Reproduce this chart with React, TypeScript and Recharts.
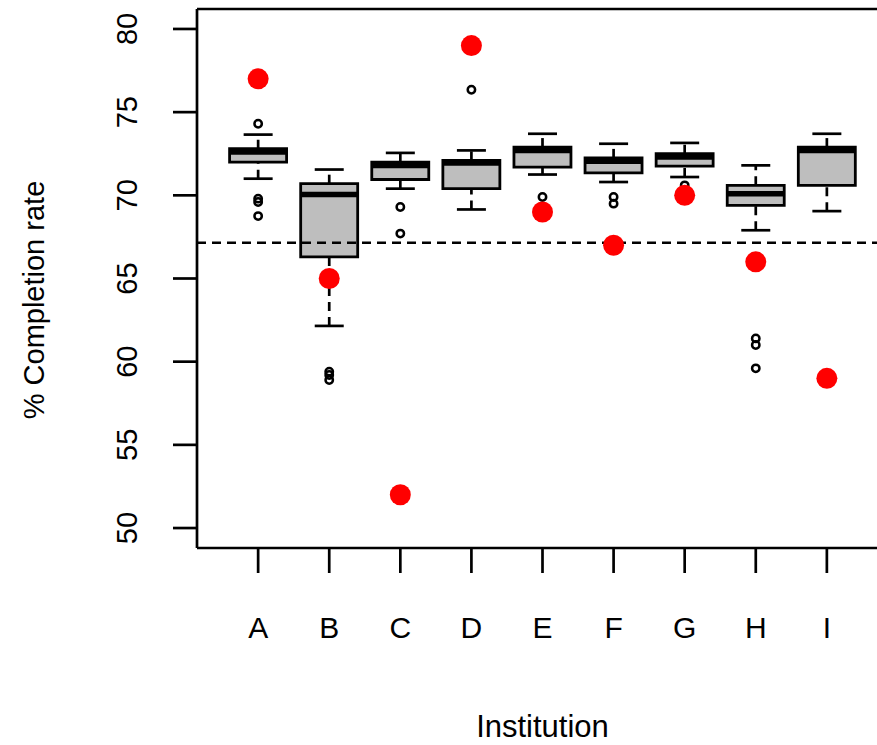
import React from 'react';
import { ComposedChart, Bar, Scatter, XAxis, YAxis, ReferenceLine, Label } from 'recharts';

const institutions = ['A', 'B', 'C', 'D', 'E', 'F', 'G', 'H', 'I'];
const lowerWhisker = [71.0, 62.15, 70.4, 69.15, 71.25, 70.8, 71.1, 67.9, 69.05];
const q1 = [72.0, 66.3, 70.95, 70.4, 71.7, 71.35, 71.75, 69.4, 70.6];
const median = [72.6, 70.05, 71.8, 71.95, 72.7, 72.05, 72.3, 70.1, 72.7];
const q3 = [72.8, 70.7, 72.0, 72.1, 72.9, 72.25, 72.5, 70.6, 72.9];
const upperWhisker = [73.65, 71.55, 72.55, 72.7, 73.7, 73.1, 73.15, 71.8, 73.7];
const outliers = [
  [74.3, 69.8, 69.6, 68.75],
  [59.4, 59.2, 58.9],
  [69.3, 67.7],
  [76.35],
  [69.9],
  [69.9, 69.5],
  [70.6],
  [61.4, 61.0, 59.6],
  [],
];
const observed = [77, 65, 52, 79, 69, 67, 70, 66, 59];
const overallRate = 67.15;
const yTicks = [50, 55, 60, 65, 70, 75, 80];
const xTicks = [1, 2, 3, 4, 5, 6, 7, 8, 9];
const yDomain = [48.8, 81.2];

const boxData = institutions.map((name, i) => ({
  x: i + 1,
  name,
  box: [q1[i], q3[i]],
}));
const medianData = institutions.map((_, i) => ({ x: i + 1, y: median[i] }));
const capData = institutions.flatMap((_, i) => [
  { x: i + 1, y: lowerWhisker[i] },
  { x: i + 1, y: upperWhisker[i] },
]);
const outlierData = outliers.flatMap((vals, i) => vals.map((v) => ({ x: i + 1, y: v })));
const observedData = observed.map((v, i) => ({ x: i + 1, y: v }));

const FONT = '"Liberation Sans", Arial, sans-serif';
const BOX_W = 57;
const CAP_W = 29;

const YTick = (props: any) => {
  const { x, y, payload } = props;
  return (
    <text x={x} y={y} transform={`rotate(-90 ${x} ${y})`} textAnchor="middle" fontSize={29} fontFamily={FONT} fill="#000">
      {payload.value}
    </text>
  );
};

const XTick = (props: any) => {
  const { x, y, payload } = props;
  return (
    <text x={x} y={y} textAnchor="middle" fontSize={30} fontFamily={FONT} fill="#000">
      {institutions[payload.value - 1]}
    </text>
  );
};

const MedianShape = (props: any) => (
  <line x1={props.cx - BOX_W / 2} x2={props.cx + BOX_W / 2} y1={props.cy} y2={props.cy} stroke="#000" strokeWidth={5.5} />
);

const CapShape = (props: any) => (
  <line x1={props.cx - CAP_W / 2} x2={props.cx + CAP_W / 2} y1={props.cy} y2={props.cy} stroke="#000" strokeWidth={2.7} />
);

const OutlierShape = (props: any) => (
  <circle cx={props.cx} cy={props.cy} r={3.7} fill="none" stroke="#000" strokeWidth={2.5} />
);

const ObservedShape = (props: any) => <circle cx={props.cx} cy={props.cy} r={10.5} fill="#ff0000" />;

export default function App() {
  return (
    <div style={{ position: 'absolute', left: 0, top: 0, width: 877, height: 745, overflow: 'hidden', background: '#fff' }}>
      <ComposedChart
        width={877}
        height={745}
        data={boxData}
        margin={{ top: 9, right: -11, left: 0, bottom: 0 }}
      >
        <XAxis
          dataKey="x"
          type="number"
          domain={[0.14, 9.86]}
          ticks={xTicks}
          allowDataOverflow
          height={197}
          tickSize={25}
          tickMargin={65}
          tick={<XTick />}
          axisLine={{ stroke: '#000', strokeWidth: 2.7 }}
          tickLine={{ stroke: '#000', strokeWidth: 2.7 }}
        >
          <Label
            content={(p: any) => {
              const vb = p.viewBox;
              return (
                <text x={vb.x + vb.width / 2} y={737} textAnchor="middle" fontSize={31} fontFamily={FONT} fill="#000">
                  Institution
                </text>
              );
            }}
          />
        </XAxis>
        <YAxis
          type="number"
          domain={yDomain}
          ticks={yTicks}
          allowDataOverflow
          width={197}
          tickSize={24}
          tickMargin={36}
          tick={<YTick />}
          axisLine={{ stroke: '#000', strokeWidth: 2.7 }}
          tickLine={{ stroke: '#000', strokeWidth: 2.7 }}
        >
          <Label
            content={() => (
              <text x={44} y={300} transform="rotate(-90 44 300)" textAnchor="middle" fontSize={29} fontFamily={FONT} fill="#000">
                % Completion rate
              </text>
            )}
          />
        </YAxis>
        <ReferenceLine y={yDomain[1]} stroke="#000" strokeWidth={2.7} />
        {institutions.map((name, i) => (
          <ReferenceLine
            key={`lo-${name}`}
            segment={[{ x: i + 1, y: lowerWhisker[i] }, { x: i + 1, y: q1[i] }]}
            stroke="#000"
            strokeWidth={2.7}
            strokeDasharray="9 6"
          />
        ))}
        {institutions.map((name, i) => (
          <ReferenceLine
            key={`hi-${name}`}
            segment={[{ x: i + 1, y: q3[i] }, { x: i + 1, y: upperWhisker[i] }]}
            stroke="#000"
            strokeWidth={2.7}
            strokeDasharray="9 6"
          />
        ))}
        <Bar dataKey="box" barSize={BOX_W} fill="#bebebe" stroke="#000" strokeWidth={2.8} isAnimationActive={false} />
        <Scatter data={medianData} dataKey="y" shape={<MedianShape />} isAnimationActive={false} />
        <Scatter data={capData} dataKey="y" shape={<CapShape />} isAnimationActive={false} />
        <ReferenceLine y={overallRate} stroke="#000" strokeWidth={2.5} strokeDasharray="9 6" />
        <Scatter data={outlierData} dataKey="y" shape={<OutlierShape />} isAnimationActive={false} />
        <Scatter data={observedData} dataKey="y" shape={<ObservedShape />} isAnimationActive={false} />
      </ComposedChart>
    </div>
  );
}
